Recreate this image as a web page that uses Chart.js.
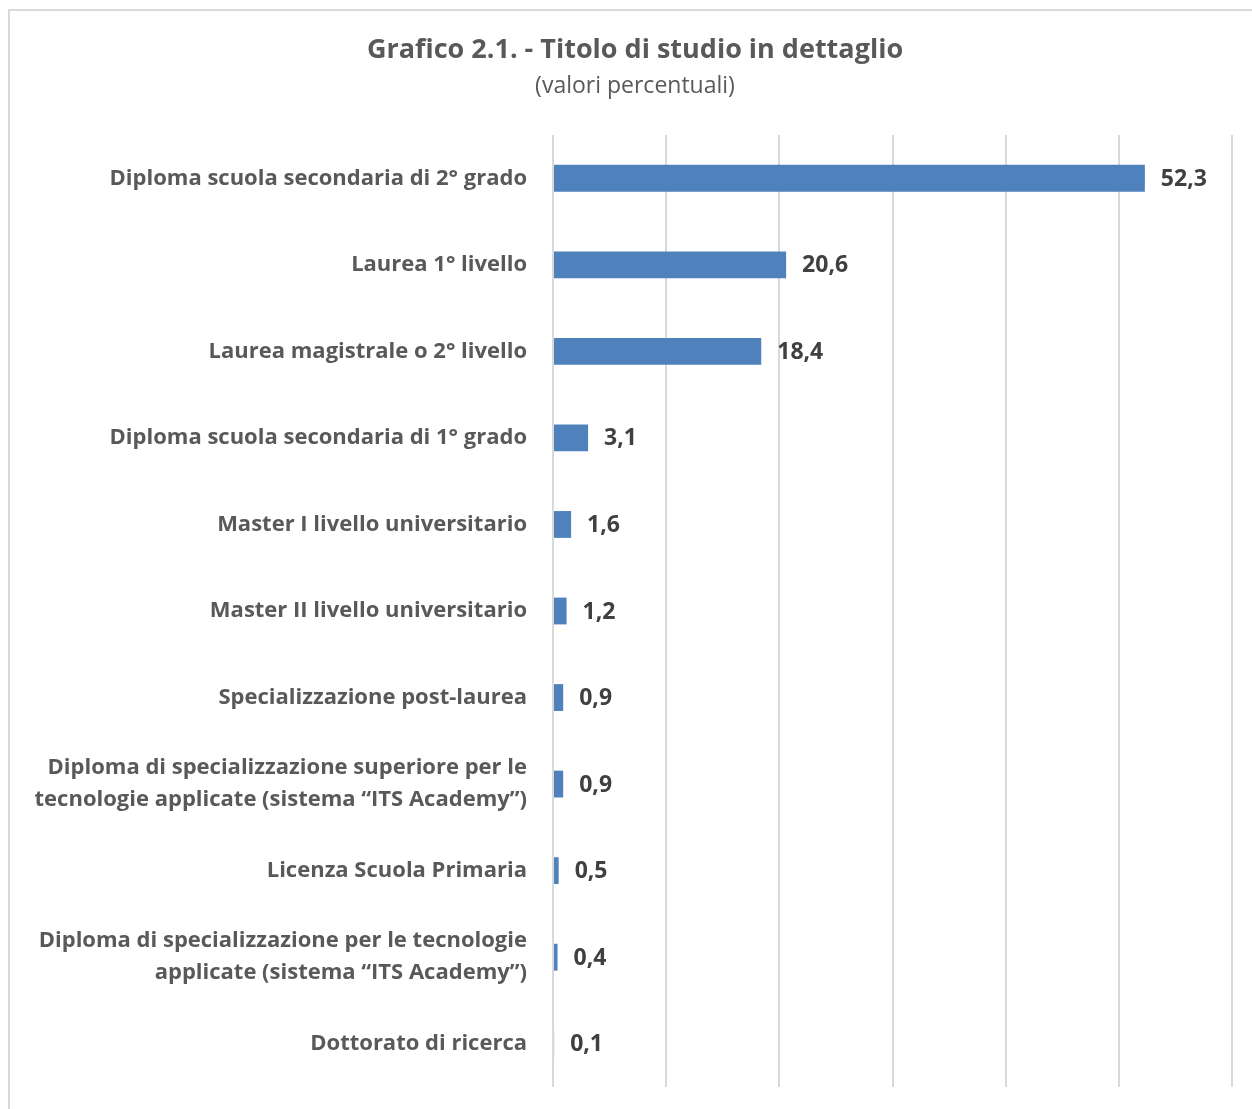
<!DOCTYPE html>
<html><head><meta charset="utf-8">
<script src="https://cdn.jsdelivr.net/npm/chart.js@4/dist/chart.umd.min.js"></script>
<style>html,body{margin:0;padding:0;background:#fff;}#wrap{width:1252px;height:1109px;position:relative;}</style>
</head><body><div id="wrap"><canvas id="c" width="1252" height="1109"></canvas></div>
<script>
const categories = [
  "Diploma scuola secondaria di 2° grado",
  "Laurea 1° livello",
  "Laurea magistrale o 2° livello",
  "Diploma scuola secondaria di 1° grado",
  "Master I livello universitario",
  "Master II livello universitario",
  "Specializzazione post-laurea",
  ["Diploma di specializzazione superiore per le", "tecnologie applicate (sistema “ITS Academy”)"],
  "Licenza Scuola Primaria",
  ["Diploma di specializzazione per le tecnologie", "applicate (sistema “ITS Academy”)"],
  "Dottorato di ricerca"
];
const values = [52.3, 20.6, 18.4, 3.1, 1.6, 1.2, 0.9, 0.9, 0.5, 0.4, 0.1];
const titleText = "Grafico 2.1. - Titolo di studio in dettaglio";
const subtitleText = "(valori percentuali)";

const FONT = "'Open Sans', Lato, sans-serif";

const decor = {
  id: 'decor',
  beforeDraw(chart) {
    const ctx = chart.ctx;
    ctx.save();
    ctx.fillStyle = '#fff';
    ctx.fillRect(0, 0, chart.width, chart.height);
    ctx.strokeStyle = '#d9d9d9';
    ctx.lineWidth = 2;
    ctx.beginPath();
    ctx.moveTo(9, 1109); ctx.lineTo(9, 10); ctx.lineTo(1252, 10);
    ctx.stroke();
    ctx.textAlign = 'center';
    ctx.textBaseline = 'middle';
    ctx.fillStyle = '#595959';
    ctx.font = "bold 27px " + FONT;
    ctx.fillText(titleText, 635, 50);
    ctx.font = "23px " + FONT;
    ctx.fillText(subtitleText, 635, 86);
    ctx.restore();
  },
  afterDatasetsDraw(chart) {
    const ctx = chart.ctx;
    const meta = chart.getDatasetMeta(0);
    ctx.save();
    ctx.font = "bold 23px " + FONT;
    ctx.fillStyle = '#404040';
    ctx.textAlign = 'left';
    ctx.textBaseline = 'middle';
    meta.data.forEach((bar, i) => {
      ctx.fillText(values[i].toFixed(1).replace('.', ','), bar.x + 16, bar.y + 1);
    });
    ctx.restore();
  }
};

new Chart(document.getElementById('c'), {
  type: 'bar',
  data: {
    labels: categories,
    datasets: [{
      data: values,
      backgroundColor: '#4f81bd',
      borderWidth: 0,
      barPercentage: 0.62,
      categoryPercentage: 0.5
    }]
  },
  options: {
    indexAxis: 'y',
    responsive: false,
    animation: false,
    layout: { padding: { left: 0, top: 135, right: 20, bottom: 22 } },
    plugins: { legend: { display: false }, tooltip: { enabled: false } },
    scales: {
      x: {
        min: 0, max: 60,
        ticks: { display: false, stepSize: 10 },
        grid: { color: '#d9d9d9', lineWidth: 2, drawTicks: false },
        border: { display: false },
        afterFit(s) { s.height = 0; }
      },
      y: {
        grid: { display: false, drawTicks: false },
        border: { display: false },
        ticks: {
          color: '#595959',
          font: { family: FONT, size: 22, weight: 'bold', lineHeight: 1.45 },
          padding: 26,
          autoSkip: false
        },
        afterFit(s) { s.width = 553; s.paddingTop = 0; s.paddingBottom = 0; }
      }
    }
  },
  plugins: [decor]
});
</script></body></html>
